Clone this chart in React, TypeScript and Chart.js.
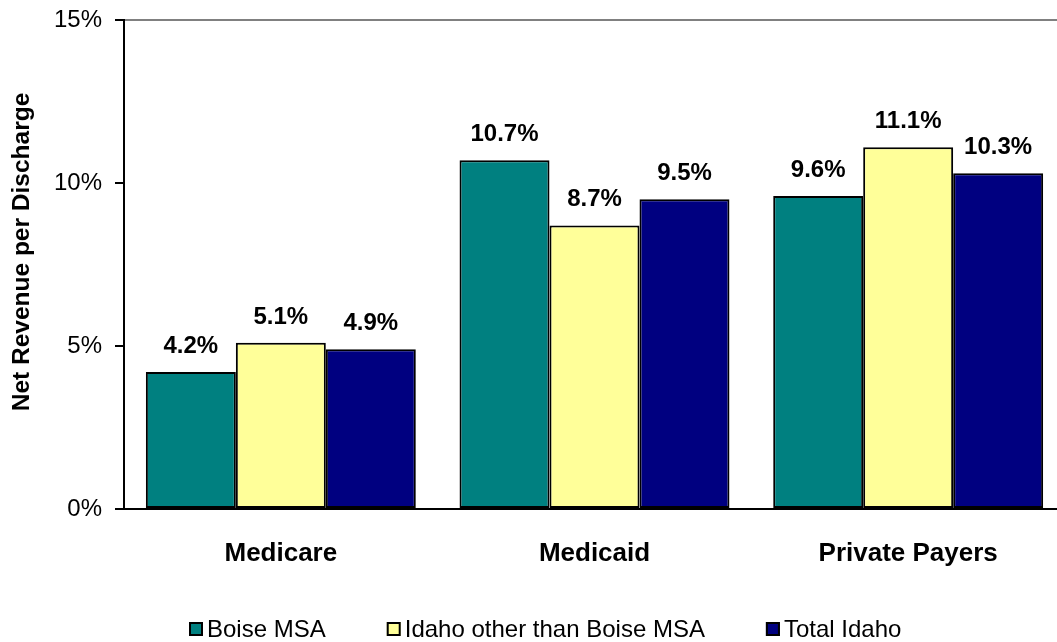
import React, { useEffect, useRef } from "react";
import { Chart, registerables } from "chart.js";

Chart.register(...registerables);

const categories = ["Medicare", "Medicaid", "Private Payers"];
const seriesNames = ["Boise MSA", "Idaho other than Boise MSA", "Total Idaho"];
const boiseMSA = [4.2, 10.7, 9.6];
const idahoOther = [5.1, 8.7, 11.1];
const totalIdaho = [4.9, 9.5, 10.3];
const yTicks = [0, 5, 10, 15];
const yTickLabels = ["0%", "5%", "10%", "15%"];
const seriesColors = ["#008080", "#FFFF99", "#000080"];
const yTitle = "Net Revenue per Discharge";

const FONT = '"Liberation Sans", Arial, Helvetica, sans-serif';

const valueLabels = {
  id: "valueLabels",
  afterDatasetsDraw(chart: any) {
    const ctx = chart.ctx;
    ctx.save();
    ctx.font = `bold 24px ${FONT}`;
    ctx.fillStyle = "#000";
    ctx.textAlign = "center";
    ctx.textBaseline = "alphabetic";
    chart.data.datasets.forEach((ds: any, i: number) => {
      const meta = chart.getDatasetMeta(i);
      meta.data.forEach((bar: any, j: number) => {
        const v = ds.data[j];
        ctx.fillText(v.toFixed(1) + "%", bar.x, bar.y - 19);
      });
    });
    ctx.restore();
  },
};

const axisTitle = {
  id: "axisTitle",
  afterDraw(chart: any) {
    const ctx = chart.ctx;
    ctx.save();
    ctx.font = `bold 24.5px ${FONT}`;
    ctx.fillStyle = "#000";
    ctx.textAlign = "center";
    ctx.textBaseline = "middle";
    ctx.translate(22, 252);
    ctx.rotate(-Math.PI / 2);
    ctx.fillText(yTitle, 0, 0);
    ctx.restore();
  },
};

const bottomLegend = {
  id: "bottomLegend",
  afterDraw(chart: any) {
    const ctx = chart.ctx;
    ctx.save();
    ctx.font = `24px ${FONT}`;
    let x = 189;
    const top = 622;
    const baseline = 637;
    chart.data.datasets.forEach((ds: any) => {
      ctx.fillStyle = ds.backgroundColor;
      ctx.fillRect(x, top, 14, 14);
      ctx.strokeStyle = "#000";
      ctx.lineWidth = 2;
      ctx.strokeRect(x + 1, top + 1, 12, 12);
      ctx.fillStyle = "#000";
      ctx.textAlign = "left";
      ctx.textBaseline = "alphabetic";
      ctx.fillText(ds.label, x + 18, baseline);
      x += 18 + ctx.measureText(ds.label).width + 61;
    });
    ctx.restore();
  },
};

export default function App() {
  const ref = useRef<HTMLCanvasElement | null>(null);

  useEffect(() => {
    if (!ref.current) return;
    const seriesData = [boiseMSA, idahoOther, totalIdaho];
    const chart = new Chart(ref.current, {
      type: "bar",
      data: {
        labels: categories,
        datasets: seriesNames.map((name, i) => ({
          label: name,
          data: seriesData[i],
          backgroundColor: seriesColors[i],
          borderColor: "#000",
          borderWidth: 2,
          borderSkipped: false,
          categoryPercentage: 0.8606,
          barPercentage: 1.0,
        })),
      },
      options: {
        responsive: false,
        animation: false,
        layout: { padding: { top: 20, right: 10, left: 0, bottom: 0 } },
        plugins: {
          legend: { display: false },
          tooltip: { enabled: false },
        },
        scales: {
          x: {
            grid: { display: false },
            border: { display: true, color: "#000", width: 2 },
            ticks: {
              color: "#000",
              font: { family: FONT, size: 26, weight: "bold" },
              padding: 21,
              maxRotation: 0,
              autoSkip: false,
            },
            afterFit(scale: any) {
              scale.height = 133;
            },
          },
          y: {
            min: 0,
            max: 15,
            afterBuildTicks(scale: any) {
              scale.ticks = yTicks.map((v) => ({ value: v }));
            },
            ticks: {
              color: "#000",
              font: { family: FONT, size: 24 },
              padding: 13,
              callback: (v: any) => yTickLabels[yTicks.indexOf(Number(v))] ?? "",
            },
            grid: {
              color: (c: any) => (c.tick && c.tick.value === 15 ? "#808080" : "rgba(0,0,0,0)"),
              tickColor: "#000",
              tickLength: 9,
              lineWidth: 2,
              drawTicks: true,
            },
            border: { display: true, color: "#000", width: 2 },
            title: { display: false },
            afterFit(scale: any) {
              scale.width = 124;
              scale.paddingTop = 0;
              scale.paddingBottom = 0;
            },
          },
        },
      },
      plugins: [valueLabels, axisTitle, bottomLegend],
    });
    return () => chart.destroy();
  }, []);

  return (
    <div
      style={{
        position: "absolute",
        left: 0,
        top: 0,
        width: 1057,
        height: 642,
        overflow: "hidden",
        background: "#fff",
      }}
    >
      <canvas ref={ref} width={1075} height={642} style={{ display: "block" }} />
    </div>
  );
}
